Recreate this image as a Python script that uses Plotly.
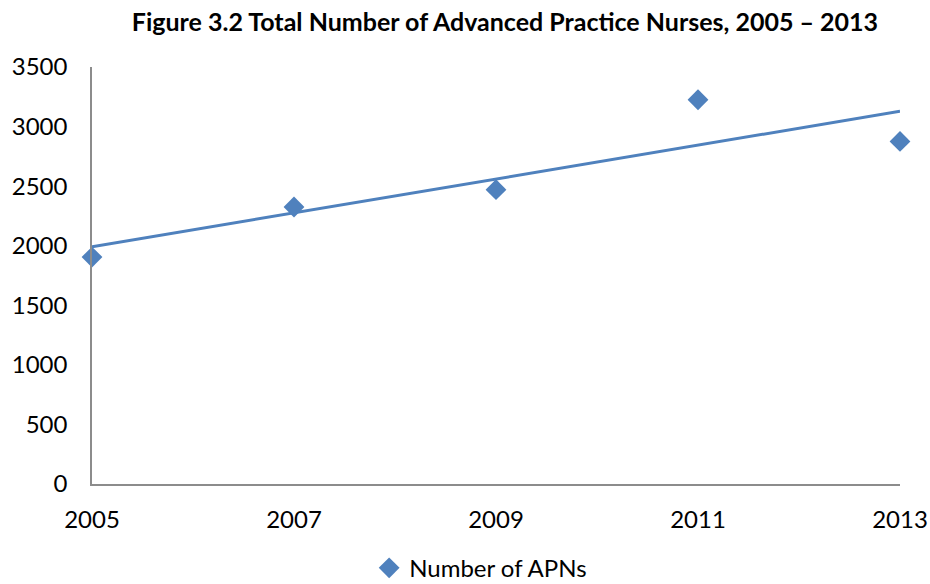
import numpy as np
import plotly.graph_objects as go

years = [2005, 2007, 2009, 2011, 2013]
apns = [1905, 2325, 2470, 3225, 2875]
y_ticks = [0, 500, 1000, 1500, 2000, 2500, 3000, 3500]

# linear trendline, like Excel's
slope, intercept = np.polyfit(years, apns, 1)
trend_x = [years[0], years[-1]]
trend_y = [slope * x + intercept for x in trend_x]

blue = "#4F81BD"

fig = go.Figure()

fig.add_trace(go.Scatter(
    x=trend_x, y=trend_y,
    mode="lines",
    line=dict(color=blue, width=3),
    showlegend=False,
    hoverinfo="skip"
))

fig.add_trace(go.Scatter(
    x=years, y=apns,
    mode="markers",
    name="Number of APNs",
    marker=dict(symbol="diamond", size=16, color=blue),
    cliponaxis=False
))

fig.update_layout(
    width=930, height=584,
    paper_bgcolor="white", plot_bgcolor="white",
    font=dict(family="Lato, sans-serif", size=24, color="black"),
    title=dict(
        text="<b>Figure 3.2 Total Number of Advanced Practice Nurses, 2005 – 2013</b>",
        x=0.543, xanchor="center", y=0.962, yanchor="middle",
        font=dict(size=25), automargin=False
    ),
    margin=dict(l=92, r=30, t=67, b=100, autoexpand=False),
    xaxis=dict(
        range=[2005, 2013], tickvals=years, ticktext=[str(y) for y in years],
        showgrid=False, zeroline=False, showline=True, linecolor="#8c8c8c",
        linewidth=1.5, ticks="", ticklabelstandoff=13, automargin=False
    ),
    yaxis=dict(
        range=[0, 3500], tickvals=y_ticks,
        showgrid=False, zeroline=False, showline=True, linecolor="#8c8c8c",
        linewidth=1.5, ticks="", ticklabelstandoff=18, automargin=False
    ),
    legend=dict(
        orientation="h", x=0.481, xanchor="center", y=-0.202, yanchor="middle",
        font=dict(size=24), itemwidth=30
    ),
    showlegend=True
)

# drop the default 8px body margin so the figure fills the window exactly
fig.write_html(
    "out.html",
    config={"displayModeBar": False},
    post_script="document.body.style.margin='0';"
)
